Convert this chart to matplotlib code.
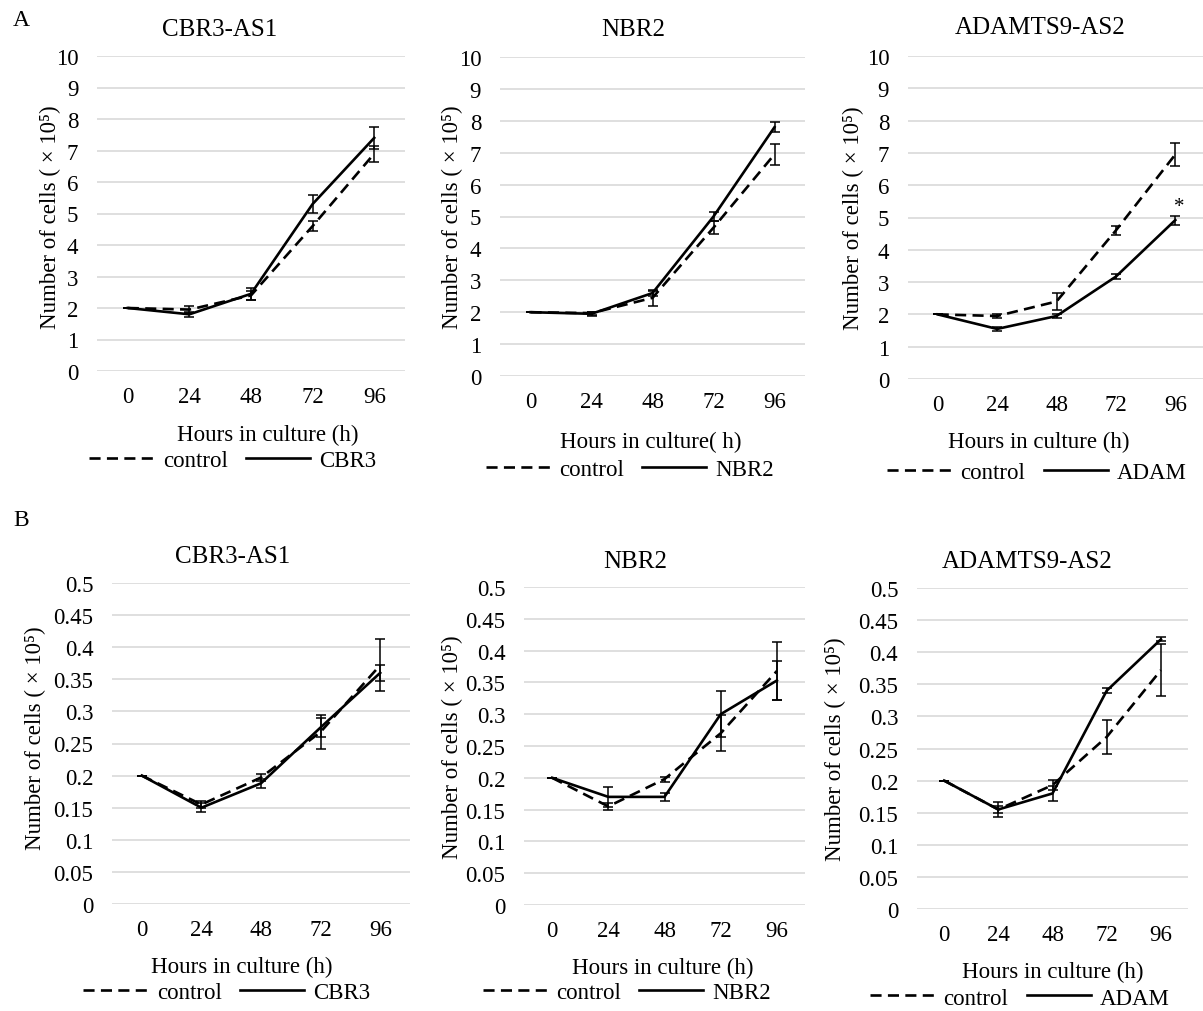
import matplotlib
matplotlib.use("Agg")
import matplotlib.pyplot as plt
import numpy as np

plt.rcParams['font.family'] = ['Liberation Serif', 'DejaVu Serif']

hours = ['0', '24', '48', '72', '96']

# A: cells (x10^5), mean and error per time point
a_cbr3_ctrl = [2.0, 1.95, 2.40, 4.60, 6.90]
a_cbr3_ctrl_err = [0, 0.10, 0.15, 0.15, 0.25]
a_cbr3 = [2.0, 1.80, 2.45, 5.30, 7.40]
a_cbr3_err = [0, 0.08, 0.20, 0.28, 0.35]

a_nbr2_ctrl = [2.0, 1.97, 2.45, 4.65, 6.95]
a_nbr2_ctrl_err = [0, 0.05, 0.25, 0.20, 0.32]
a_nbr2 = [2.0, 1.95, 2.60, 5.00, 7.80]
a_nbr2_err = [0, 0.06, 0.08, 0.15, 0.15]

a_adam_ctrl = [2.0, 1.95, 2.40, 4.60, 6.95]
a_adam_ctrl_err = [0, 0.06, 0.25, 0.15, 0.35]
a_adam = [2.0, 1.55, 1.95, 3.17, 4.92]
a_adam_err = [0, 0.06, 0.06, 0.08, 0.14]

# B
b_cbr3_ctrl = [0.20, 0.155, 0.197, 0.268, 0.372]
b_cbr3_ctrl_err = [0, 0.005, 0.005, 0.027, 0.040]
b_cbr3 = [0.20, 0.150, 0.188, 0.275, 0.360]
b_cbr3_err = [0, 0.007, 0.007, 0.015, 0.013]

b_nbr2_ctrl = [0.20, 0.155, 0.198, 0.270, 0.368]
b_nbr2_ctrl_err = [0, 0.005, 0.004, 0.028, 0.045]
b_nbr2 = [0.20, 0.170, 0.170, 0.300, 0.353]
b_nbr2_err = [0, 0.016, 0.006, 0.036, 0.030]

b_adam_ctrl = [0.20, 0.155, 0.193, 0.268, 0.372]
b_adam_ctrl_err = [0, 0.005, 0.008, 0.027, 0.040]
b_adam = [0.20, 0.155, 0.180, 0.340, 0.420]
b_adam_err = [0, 0.012, 0.012, 0.004, 0.003]

W, H = 1203, 1012
fig = plt.figure(figsize=(W / 100, H / 100), dpi=100)

FS = 16.5
ylab = 'Number of cells ( \u00d7 10\u2075)'


def fx(px):
    return px / W


def fy(py):
    return 1 - py / H


def panel(box, title, title_xy, ctrl, ctrl_err, kd, kd_err, name,
          ylim, yticks, ylab_xy, xlab, xlab_xy, leg_xy):
    l, t, r, b = box
    ax = fig.add_axes([fx(l), fy(b), fx(r - l), (b - t) / H])
    x = np.arange(len(hours))
    for y, e in ((ctrl, ctrl_err), (kd, kd_err)):
        ax.errorbar(x, y, yerr=e, fmt='none', ecolor='black',
                    elinewidth=1.1, capsize=3.8, capthick=1.1, zorder=3)
    ax.plot(x, ctrl, color='black', lw=1.9, dashes=(4.2, 2.4),
            label='control', zorder=4)
    ax.plot(x, kd, color='black', lw=1.9, label=name, zorder=4)
    ax.set_xlim(-0.5, len(hours) - 0.5)
    ax.set_ylim(*ylim)
    ax.set_xticks(x)
    ax.set_xticklabels(hours)
    ax.set_yticks(yticks)
    ax.set_yticklabels([f'{v:g}' for v in yticks])
    ax.grid(axis='y', color='#d9d9d9', lw=1.2)
    ax.set_axisbelow(True)
    for s in ax.spines.values():
        s.set_visible(False)
    ax.tick_params(length=0, labelsize=FS)
    ax.tick_params(axis='y', pad=13.5)
    ax.tick_params(axis='x', pad=11)
    ax.set_ylabel(ylab, fontsize=FS, va='center')
    ax.yaxis.set_label_coords(fx(ylab_xy[0]), fy(ylab_xy[1]),
                              transform=fig.transFigure)
    ax.set_xlabel(xlab, fontsize=FS, va='center')
    ax.xaxis.set_label_coords(fx(xlab_xy[0]), fy(xlab_xy[1]),
                              transform=fig.transFigure)
    fig.text(fx(title_xy[0]), fy(title_xy[1]), title, fontsize=18,
             ha='center', va='center')
    ax.legend(loc='center', bbox_to_anchor=(fx(leg_xy[0]), fy(leg_xy[1])),
              bbox_transform=fig.transFigure, ncol=2, frameon=False,
              fontsize=FS, handlelength=2.8, handletextpad=0.4,
              columnspacing=0.8, borderpad=0.1)
    return ax


ya = np.arange(0, 11, 1)
yb = np.round(np.arange(0, 0.501, 0.05), 2)

panel((97, 57, 405, 372), 'CBR3-AS1', (220, 30),
      a_cbr3_ctrl, a_cbr3_ctrl_err, a_cbr3, a_cbr3_err, 'CBR3',
      (0, 10), ya, (50, 217), 'Hours in culture (h)', (268, 435), (233, 461))
panel((500, 58, 805, 377), 'NBR2', (633, 30),
      a_nbr2_ctrl, a_nbr2_ctrl_err, a_nbr2, a_nbr2_err, 'NBR2',
      (0, 10), ya, (452, 217), 'Hours in culture( h)', (651, 442), (630, 470))
ax = panel((908, 57, 1205, 380), 'ADAMTS9-AS2', (1040, 28),
           a_adam_ctrl, a_adam_ctrl_err, a_adam, a_adam_err, 'ADAM',
           (0, 10), ya, (853, 218), 'Hours in culture (h)', (1039, 442), (1037, 473))
ax.annotate('*', (4, a_adam[4] + a_adam_err[4]), xytext=(3, 0),
            textcoords='offset points', fontsize=15, ha='center', va='bottom')

panel((112, 584, 410, 905), 'CBR3-AS1', (233, 557),
      b_cbr3_ctrl, b_cbr3_ctrl_err, b_cbr3, b_cbr3_err, 'CBR3',
      (0, 0.5), yb, (35, 738), 'Hours in culture (h)', (242, 967), (227, 993))
panel((524, 588, 805, 906), 'NBR2', (635, 562),
      b_nbr2_ctrl, b_nbr2_ctrl_err, b_nbr2, b_nbr2_err, 'NBR2',
      (0, 0.5), yb, (452, 747), 'Hours in culture (h)', (663, 968), (627, 993))
panel((917, 589, 1188, 910), 'ADAMTS9-AS2', (1027, 562),
      b_adam_ctrl, b_adam_ctrl_err, b_adam, b_adam_err, 'ADAM',
      (0, 0.5), yb, (835, 749), 'Hours in culture (h)', (1053, 972), (1020, 999))

fig.text(fx(21), fy(21), 'A', fontsize=17, ha='center', va='center')
fig.text(fx(21), fy(520), 'B', fontsize=17, ha='center', va='center')

fig.savefig('out.png', dpi=100)
